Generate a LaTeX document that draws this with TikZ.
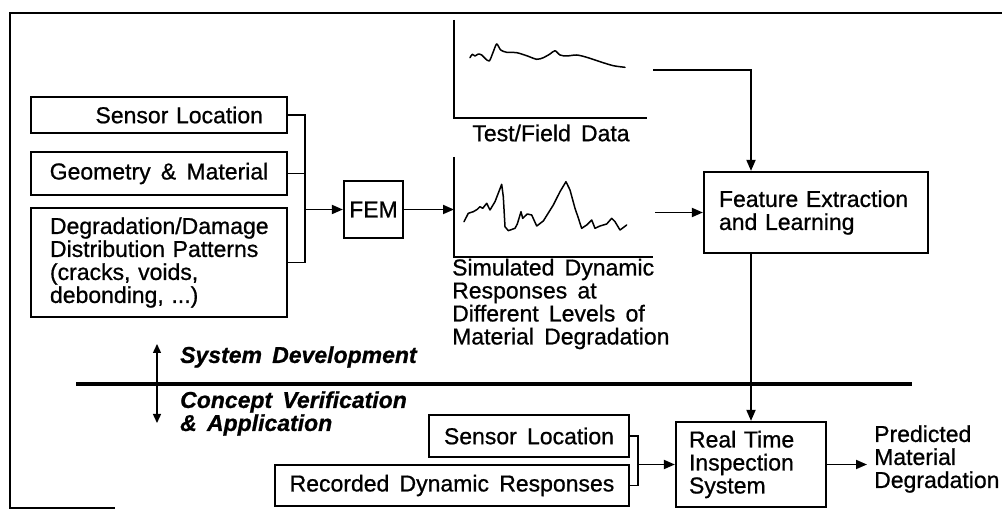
\documentclass[tikz,border=0pt]{standalone}
\usepackage{fontspec}
\setmainfont[WordSpace=1.6, FakeBold=0.8]{Liberation Sans}
\usetikzlibrary{arrows.meta}
\begin{document}
\begin{tikzpicture}[x=1pt,y=-1pt,
  font=\fontsize{23}{23}\selectfont,
  box/.style={draw, line width=2.2pt, inner sep=0pt, align=center},
  conn/.style={line width=1.8pt},
  arr/.style={line width=1.8pt, -{Triangle[length=11pt,width=9pt]}},
  axis/.style={line width=2pt},
  curve/.style={line width=1.5pt, line join=round, line cap=round},
  lbl/.style={inner sep=0pt, align=left},
  phase/.style={inner sep=0pt, anchor=west, font=\fontsize{23}{23}\selectfont\bfseries\itshape}]
\useasboundingbox (0,0) rectangle (1002,510);
% frame
\draw[line width=2.2pt] (1002,13) -- (10,13) -- (10,508) -- (115,508);
% left input boxes
\node[box, minimum width=256, minimum height=36, text width=208, inner xsep=24, align=right] (sl1) at (159,115) {Sensor Location};
\node[box, minimum width=256, minimum height=43] (gm) at (159,173.5) {Geometry \& Material};
\node[box, minimum width=256, minimum height=109, text width=218, inner xsep=19, align=left] (dd) at (159,262.5) {Degradation/Damage\\Distribution Patterns\\(cracks, voids,\\debonding, ...)};
\node[box, minimum width=59, minimum height=57] (fem) at (373.5,209.5) {FEM};
\coordinate (j1) at (305,209.5);
\draw[conn] (sl1.east) -- (sl1.east -| j1) -- (dd.east -| j1) -- (dd.east);
\draw[conn] (gm.east) -- (gm.east -| j1);
\draw[arr] (j1) -- (fem.west);
% plot 1 (test/field data)
\coordinate (p1top) at (454,20);
\coordinate (p1o) at (454,118);
\coordinate (p1end) at (647,118);
\draw[axis] (p1top) -- (p1o) -- (p1end);
\draw[curve] plot[smooth, tension=0.45] coordinates {(470,57.7) (472.3,54.3) (475,56) (478.3,54) (481.7,55) (485,58.3) (489.3,61) (493.3,51.7) (496.7,44) (500.7,50) (506.7,52.3) (516.7,52.7) (526.7,55.7) (536.7,59.3) (543.3,57.7) (550,54) (555,50.7) (560,55) (566.7,56) (576.7,55) (586.7,57.3) (600,61.7) (613.3,65.7) (625,67.3)};
\node[lbl] (tfd) at (551,133) {Test/Field Data};
% plot 2 (simulated)
\coordinate (p2top) at (454,157);
\coordinate (p2o) at (454,257);
\coordinate (p2end) at (653,257);
\draw[axis] (p2top) -- (p2o) -- (p2end);
\draw[curve] (464,221.7) -- (468.3,213.3) -- (473.3,211.7) -- (477.3,209.3) -- (480,206.7) -- (482.7,208.3) -- (486.7,203.3) -- (490,210) -- (495,201.7) -- (501.7,184.3) -- (503.3,196.7) -- (505,226.7) -- (508.3,230.7) -- (515,228.3) -- (517.3,224) -- (521,211.7) -- (522.7,218.3) -- (527.3,214) -- (531.7,215) -- (536.7,226) -- (543.3,221) -- (553.3,205) -- (560,191.7) -- (566,181.7) -- (570,190) -- (575,208.3) -- (577.3,215) -- (581.7,228.3) -- (586.7,225) -- (591.7,220) -- (595,228.3) -- (600,226) -- (606.7,224) -- (611.7,218.3) -- (615,221.7) -- (620,230) -- (626.7,225);
\node[lbl, anchor=west] (sim) at (452,304) {Simulated Dynamic\\Responses at\\Different Levels of\\Material Degradation};
\coordinate (p2in) at (454,209.5);
\draw[arr] (fem.east) -- (p2in);
% feature extraction
\node[box, minimum width=224, minimum height=81, text width=194, inner xsep=15, align=left] (fe) at (816,212.5) {Feature Extraction\\and Learning};
\node[box, minimum width=150, minimum height=85, text width=124, inner xsep=13, align=left] (rt) at (751,464.5) {Real Time\\Inspection\\System};
\coordinate (p1out) at (653,70);
\coordinate (p2out) at (655,212.5);
\draw[arr] (p1out) -| (fe.north -| rt.north);
\draw[arr] (p2out) -- (fe.west);
\draw[arr] (fe.south -| rt.north) -- (rt.north);
% separator
\coordinate (s1) at (76,384);
\coordinate (s2) at (912,384);
\draw[line width=4pt] (s1) -- (s2);
\coordinate (da1) at (157,344);
\coordinate (da2) at (157,423);
\draw[line width=1.4pt, {Triangle[length=9pt,width=8pt]}-{Triangle[length=9pt,width=8pt]}] (da1) -- (da2);
\node[phase] (sd) at (180,357) {System Development};
\node[phase] (cv) at (180,402) {Concept Verification};
\node[phase] (ap) at (180,425) {\& Application};
% bottom inputs
\node[box, minimum width=200, minimum height=42] (sl2) at (529,436) {Sensor Location};
\node[box, minimum width=354, minimum height=41] (rec) at (452,485.5) {Recorded Dynamic Responses};
\coordinate (j2) at (638,464.5);
\draw[conn] (sl2.east) -- (sl2.east -| j2) -- (rec.east -| j2) -- (rec.east);
\draw[arr] (j2) -- (rt.west);
\coordinate (outp) at (867,464.5);
\draw[arr] (rt.east) -- (outp);
\node[lbl, anchor=west] (pmd) at (874,459) {Predicted\\Material\\Degradation};
\end{tikzpicture}
\end{document}
